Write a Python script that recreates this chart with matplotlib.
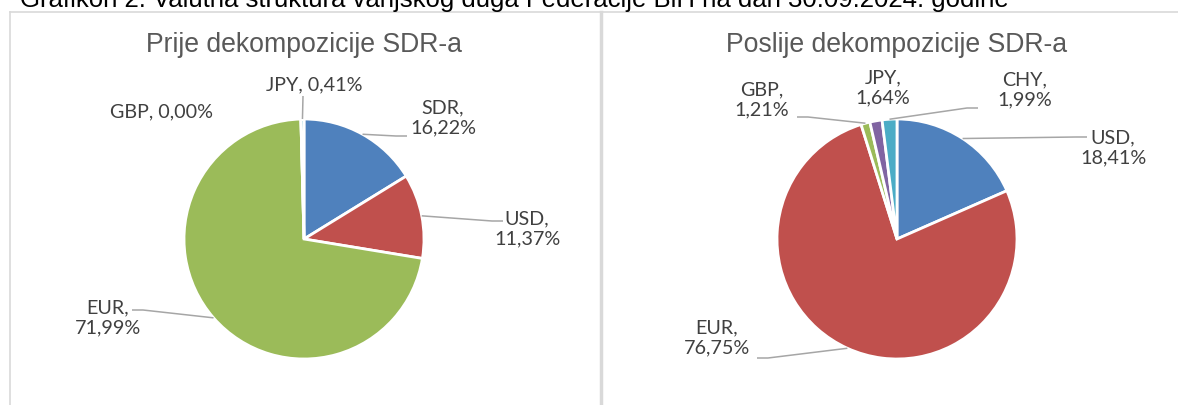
import numpy as np
import matplotlib
matplotlib.use('Agg')
import matplotlib.pyplot as plt

W, H = 1178, 406

title = 'Grafikon 2: Valutna struktura vanjskog duga Federacije BiH na dan 30.09.2024. godine'
left_title = 'Prije dekompozicije SDR-a'
right_title = 'Poslije dekompozicije SDR-a'

left_names = ['SDR', 'USD', 'EUR', 'GBP', 'JPY']
left_vals = [16.22, 11.37, 71.99, 0.00, 0.41]
right_names = ['USD', 'EUR', 'GBP', 'JPY', 'CHY']
right_vals = [18.41, 76.75, 1.21, 1.64, 1.99]

# boja po redoslijedu serije (Office paleta)
colors = ['#4F81BD', '#C0504D', '#9BBB59', '#8064A2', '#4BACC6']

# raspored u pikselima (y od vrha slike)
R = 120
left_center = (304, 240)
right_center = (897, 240)
left_label_xy = [(443, 118), (527, 229), (108, 318), (162, 112), (314, 85)]
left_sep = ['\n', '\n', '\n', ' ', ' ']
left_leader_end = [(407, 137), (503, 222), (132, 311), None, (303, 97)]
right_label_xy = [(1113, 148), (717, 338), (762, 100), (883, 88), (1025, 90)]
right_sep = ['\n'] * 5
right_leader_end = [(1087, 138), (757, 359), (797, 118), None, (978, 109)]

label_font = 'Lato'
title_font = 'Liberation Sans'
text_col = '#404040'
line_col = '#A6A6A6'
border_col = '#D9D9D9'


def fit_size(fig, txt, target_px, family, base=12):
    t = fig.text(0, 0, txt, fontsize=base, family=family)
    w = t.get_window_extent(renderer=fig.canvas.get_renderer()).width
    t.remove()
    return base * target_px / w


def draw_pie(ax, center, names, vals, label_xy, seps, leader_end, lsize):
    cx, cy = center[0], H - center[1]
    ax.pie(vals, colors=colors, startangle=90, counterclock=False,
           center=(cx, cy), radius=R,
           wedgeprops=dict(edgecolor='white', linewidth=2.0))
    total = float(sum(vals))
    cum = np.cumsum([0] + list(vals))
    for i, name in enumerate(names):
        txt = f'{name},{seps[i]}{vals[i]:.2f}%'.replace('.', ',')
        lx, ly = label_xy[i]
        ax.text(lx, H - ly, txt, ha='center', va='center', fontsize=lsize,
                family=label_font, color=text_col, linespacing=1.2)
        if leader_end[i] is None:
            continue
        mid = np.deg2rad(90 - (cum[i] + vals[i] / 2) / total * 360)
        sx, sy = cx + R * np.cos(mid), cy + R * np.sin(mid)
        ex, ey = leader_end[i][0], H - leader_end[i][1]
        if abs(ex - sx) > 30:
            sgn = 1 if sx > ex else -1
            xs, ys = [sx, ex + sgn * 11, ex], [sy, ey, ey]
        else:
            xs, ys = [sx, ex], [sy, ey]
        ax.plot(xs, ys, color=line_col, lw=1.1, solid_capstyle='butt')


fig = plt.figure(figsize=(W / 100, H / 100), dpi=100)
ax = fig.add_axes([0, 0, 1, 1])

lsize = fit_size(fig, '71,99%', 66, label_font)
tsize = fit_size(fig, left_title, 318, title_font)
hsize = fit_size(fig, title, 995, title_font)

draw_pie(ax, left_center, left_names, left_vals, left_label_xy, left_sep, left_leader_end, lsize)
draw_pie(ax, right_center, right_names, right_vals, right_label_xy, right_sep, right_leader_end, lsize)

ax.text(left_center[0], H - 45, left_title, ha='center', va='center',
        fontsize=tsize, family=title_font, color='#595959')
ax.text(right_center[0], H - 45, right_title, ha='center', va='center',
        fontsize=tsize, family=title_font, color='#595959')
# naslov je u originalu odsjecen gore
ax.text(20, H - 7, title, ha='left', va='baseline', fontsize=hsize,
        family=title_font, color='black')

# okviri grafikona
ax.plot([10, W], [H - 13, H - 13], color=border_col, lw=1.2)
ax.plot([10, 10], [H - 13, 0], color=border_col, lw=1.2)
ax.plot([601, 601], [H - 13, 0], color=border_col, lw=2.5)

ax.set_xlim(0, W)
ax.set_ylim(0, H)
ax.set_aspect('auto')
ax.axis('off')

fig.savefig('out.png', dpi=100)
